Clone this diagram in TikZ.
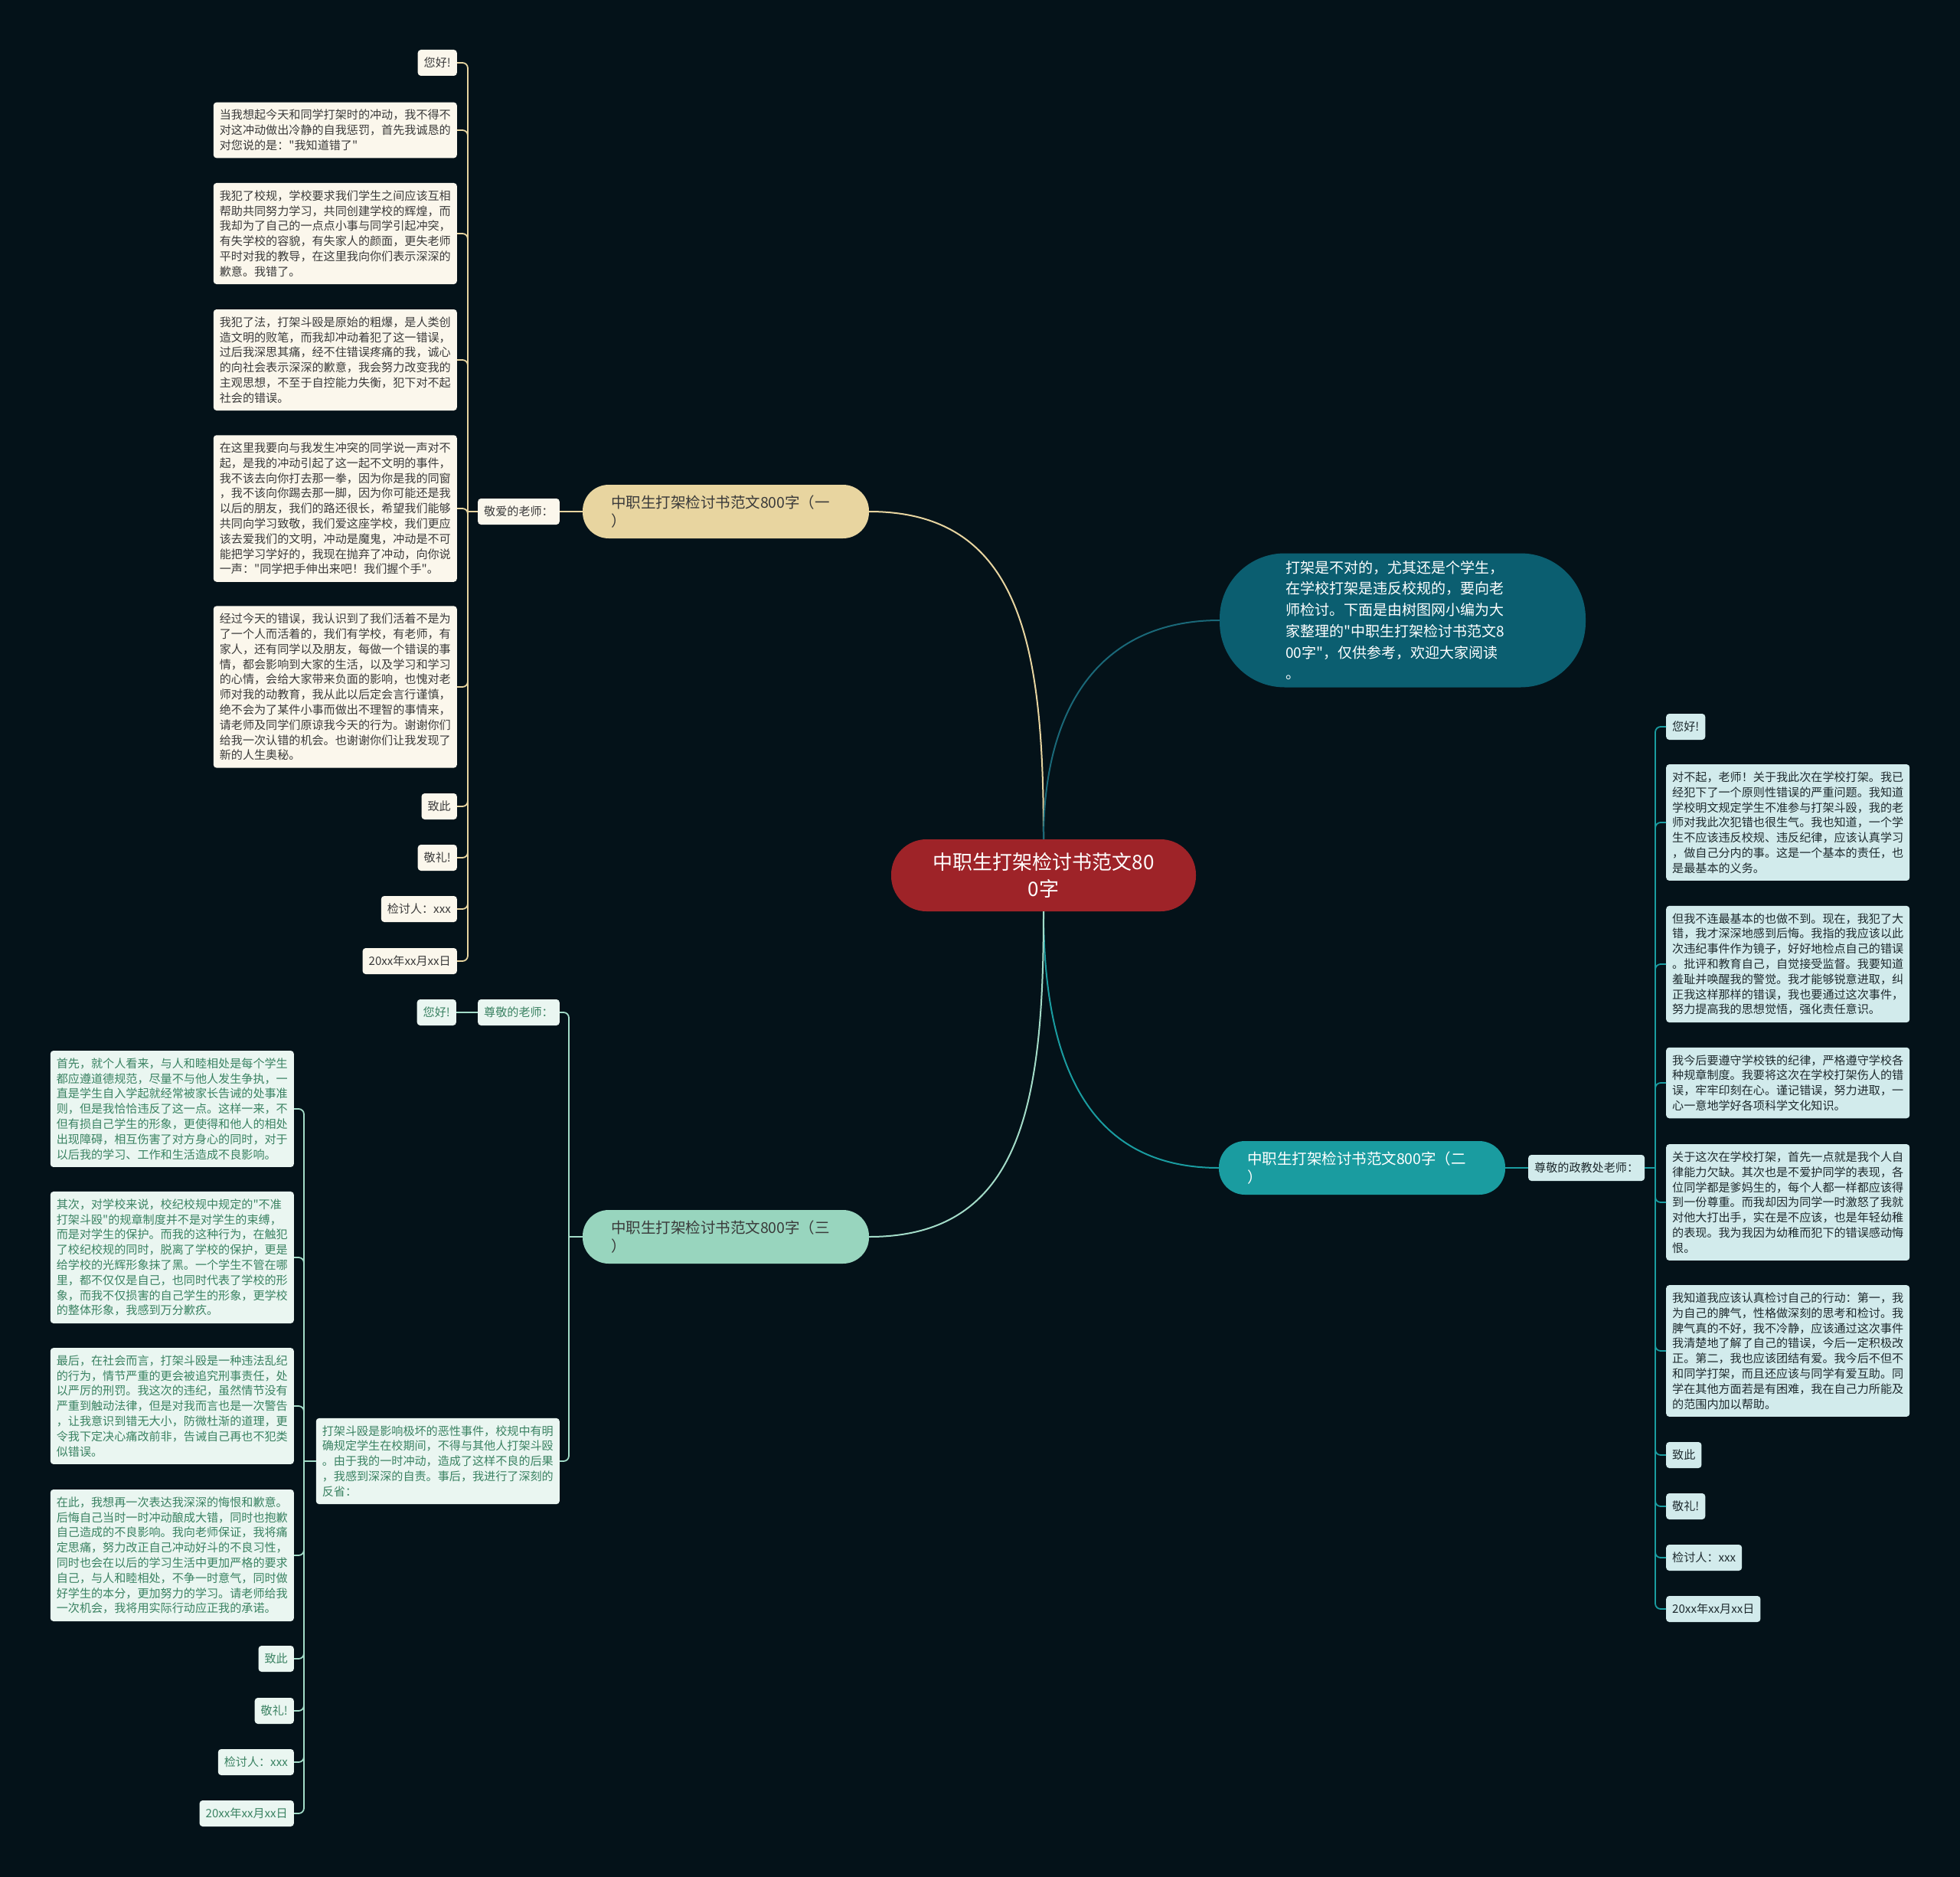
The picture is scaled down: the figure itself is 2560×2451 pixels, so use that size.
\documentclass[tikz,border=0pt]{standalone}
\usepackage{fontspec}
\setmainfont{Noto Sans CJK SC}[Ligatures=TeXOff]
\usetikzlibrary{calc}

\definecolor{bgcol}{HTML}{041219}
\definecolor{rootcol}{HTML}{9E2328}
\definecolor{introcol}{HTML}{0B5E70}
\definecolor{introedge}{HTML}{1A6878}
\definecolor{onecol}{HTML}{E8D5A0}
\definecolor{oneleaf}{HTML}{FBF7EC}
\definecolor{onetext}{HTML}{3A3A3A}
\definecolor{twocol}{HTML}{1A9CA0}
\definecolor{twoleaf}{HTML}{D2EBEC}
\definecolor{twotext}{HTML}{1E2A2E}
\definecolor{threecol}{HTML}{98D5BE}
\definecolor{threeleaf}{HTML}{EAF6F1}
\definecolor{threetext}{HTML}{3A8262}
\definecolor{threeedge}{HTML}{A3DCC8}

\newcommand{\leaffont}{\fontsize{15.1pt}{19.8pt}\selectfont}
\newcommand{\branchfont}{\fontsize{19.5pt}{24pt}\selectfont}
\newcommand{\rootfont}{\fontsize{26pt}{35pt}\selectfont}
\newcommand{\introfont}{\fontsize{19pt}{27.7pt}\selectfont}

\begin{document}
\begin{tikzpicture}[x=1pt,y=-1pt]
	\tikzset{leaf/.style={rounded corners=4pt, inner xsep=8pt, inner ysep=9.5pt, align=left, font=\leaffont}}
	\tikzset{tag/.style={leaf, minimum height=34pt}}
	\tikzset{topic/.style={rounded corners=34pt, minimum height=70pt, text width=300pt, inner xsep=37pt, align=left, font=\branchfont}}
	\tikzset{oneleafs/.style={leaf, fill=oneleaf, text=onetext}}
	\tikzset{twoleafs/.style={leaf, fill=twoleaf, text=twotext}}
	\tikzset{threeleafs/.style={leaf, fill=threeleaf, text=threetext}}
	\tikzset{oneline/.style={draw=onecol, line width=1.8pt}}
	\tikzset{twoline/.style={draw=twocol, line width=1.8pt}}
	\tikzset{threeline/.style={draw=threeedge, line width=1.8pt}}

	\useasboundingbox (0,0) rectangle (2560,2451);
	\fill[bgcol] (0,0) rectangle (2560,2451);

	% centre
	\node[fill=rootcol, text=white, rounded corners=46pt, minimum width=398pt, minimum height=94pt, align=center, font=\rootfont] (root) at (1363,1143) {中职生打架检讨书范文80\\0字};
	\node[fill=introcol, text=white, rounded corners=85pt, text width=306pt, inner xsep=86pt, minimum height=175pt, align=left, font=\introfont] (intro) at (1832,810) {打架是不对的，尤其还是个学生，\\在学校打架是违反校规的，要向老\\师检讨。下面是由树图网小编为大\\家整理的"中职生打架检讨书范文8\\00字"，仅供参考，欢迎大家阅读\\。};

	% branch one
	\node[topic, fill=onecol, text=onetext] (b1) at (948,668) {中职生打架检讨书范文800字（一\\）};
	\node[tag, fill=oneleaf, text=onetext, anchor=east] (lab1) at (731,668) {敬爱的老师：};
	\coordinate (s1) at (611,668);
	\node[tag, fill=oneleaf, text=onetext, anchor=east] (l1a) at (597,82) {您好!};
	\node[oneleafs, anchor=east] (l1b) at (597,170) {当我想起今天和同学打架时的冲动，我不得不\\对这冲动做出冷静的自我惩罚，首先我诚恳的\\对您说的是："我知道错了"};
	\node[oneleafs, anchor=east] (l1c) at (597,305) {我犯了校规，学校要求我们学生之间应该互相\\帮助共同努力学习，共同创建学校的辉煌，而\\我却为了自己的一点点小事与同学引起冲突，\\有失学校的容貌，有失家人的颜面，更失老师\\平时对我的教导，在这里我向你们表示深深的\\歉意。我错了。};
	\node[oneleafs, anchor=east] (l1d) at (597,470) {我犯了法，打架斗殴是原始的粗爆，是人类创\\造文明的败笔，而我却冲动着犯了这一错误，\\过后我深思其痛，经不住错误疼痛的我，诚心\\的向社会表示深深的歉意，我会努力改变我的\\主观思想，不至于自控能力失衡，犯下对不起\\社会的错误。};
	\node[oneleafs, anchor=east] (l1e) at (597,664) {在这里我要向与我发生冲突的同学说一声对不\\起，是我的冲动引起了这一起不文明的事件，\\我不该去向你打去那一拳，因为你是我的同窗\\，我不该向你踢去那一脚，因为你可能还是我\\以后的朋友，我们的路还很长，希望我们能够\\共同向学习致敬，我们爱这座学校，我们更应\\该去爱我们的文明，冲动是魔鬼，冲动是不可\\能把学习学好的，我现在抛弃了冲动，向你说\\一声："同学把手伸出来吧！我们握个手"。};
	\node[oneleafs, anchor=east] (l1f) at (597,897) {经过今天的错误，我认识到了我们活着不是为\\了一个人而活着的，我们有学校，有老师，有\\家人，还有同学以及朋友，每做一个错误的事\\情，都会影响到大家的生活，以及学习和学习\\的心情，会给大家带来负面的影响，也愧对老\\师对我的动教育，我从此以后定会言行谨慎，\\绝不会为了某件小事而做出不理智的事情来，\\请老师及同学们原谅我今天的行为。谢谢你们\\给我一次认错的机会。也谢谢你们让我发现了\\新的人生奥秘。};
	\node[tag, fill=oneleaf, text=onetext, anchor=east] (l1g) at (597,1053) {致此};
	\node[tag, fill=oneleaf, text=onetext, anchor=east] (l1h) at (597,1120) {敬礼!};
	\node[tag, fill=oneleaf, text=onetext, anchor=east] (l1i) at (597,1187) {检讨人：xxx};
	\node[tag, fill=oneleaf, text=onetext, anchor=east] (l1j) at (597,1255) {20xx年xx月xx日};

	% branch two
	\node[topic, fill=twocol, text=white] (b2) at (1779,1525) {中职生打架检讨书范文800字（二\\）};
	\node[tag, fill=twoleaf, text=twotext, anchor=west] (lab2) at (1996,1525) {尊敬的政教处老师：};
	\coordinate (s2) at (2162,1525);
	\node[tag, fill=twoleaf, text=twotext, anchor=west] (l2a) at (2176,949) {您好!};
	\node[twoleafs, anchor=west] (l2b) at (2176,1074) {对不起，老师！关于我此次在学校打架。我已\\经犯下了一个原则性错误的严重问题。我知道\\学校明文规定学生不准参与打架斗殴，我的老\\师对我此次犯错也很生气。我也知道，一个学\\生不应该违反校规、违反纪律，应该认真学习\\，做自己分内的事。这是一个基本的责任，也\\是最基本的义务。};
	\node[twoleafs, anchor=west] (l2c) at (2176,1259) {但我不连最基本的也做不到。现在，我犯了大\\错，我才深深地感到后悔。我指的我应该以此\\次违纪事件作为镜子，好好地检点自己的错误\\。批评和教育自己，自觉接受监督。我要知道\\羞耻并唤醒我的警觉。我才能够锐意进取，纠\\正我这样那样的错误，我也要通过这次事件，\\努力提高我的思想觉悟，强化责任意识。};
	\node[twoleafs, anchor=west] (l2d) at (2176,1414) {我今后要遵守学校铁的纪律，严格遵守学校各\\种规章制度。我要将这次在学校打架伤人的错\\误，牢牢印刻在心。谨记错误，努力进取，一\\心一意地学好各项科学文化知识。};
	\node[twoleafs, anchor=west] (l2e) at (2176,1570) {关于这次在学校打架，首先一点就是我个人自\\律能力欠缺。其次也是不爱护同学的表现，各\\位同学都是爹妈生的，每个人都一样都应该得\\到一份尊重。而我却因为同学一时激怒了我就\\对他大打出手，实在是不应该，也是年轻幼稚\\的表现。我为我因为幼稚而犯下的错误感动悔\\恨。};
	\node[twoleafs, anchor=west] (l2f) at (2176,1764) {我知道我应该认真检讨自己的行动：第一，我\\为自己的脾气，性格做深刻的思考和检讨。我\\脾气真的不好，我不冷静，应该通过这次事件\\我清楚地了解了自己的错误，今后一定积极改\\正。第二，我也应该团结有爱。我今后不但不\\和同学打架，而且还应该与同学有爱互助。同\\学在其他方面若是有困难，我在自己力所能及\\的范围内加以帮助。};
	\node[tag, fill=twoleaf, text=twotext, anchor=west] (l2g) at (2176,1900) {致此};
	\node[tag, fill=twoleaf, text=twotext, anchor=west] (l2h) at (2176,1967) {敬礼!};
	\node[tag, fill=twoleaf, text=twotext, anchor=west] (l2i) at (2176,2034) {检讨人：xxx};
	\node[tag, fill=twoleaf, text=twotext, anchor=west] (l2j) at (2176,2101) {20xx年xx月xx日};

	% branch three
	\node[topic, fill=threecol, text=onetext] (b3) at (948,1615) {中职生打架检讨书范文800字（三\\）};
	\coordinate (s3) at (743,1615);
	\node[tag, fill=threeleaf, text=threetext, anchor=east] (lab3) at (731,1322) {尊敬的老师：};
	\node[tag, fill=threeleaf, text=threetext, anchor=east] (hi3) at (596,1322) {您好!};
	\node[threeleafs, anchor=east] (blk3) at (731,1908) {打架斗殴是影响极坏的恶性事件，校规中有明\\确规定学生在校期间，不得与其他人打架斗殴\\。由于我的一时冲动，造成了这样不良的后果\\，我感到深深的自责。事后，我进行了深刻的\\反省：};
	\coordinate (s4) at (397,1908);
	\node[threeleafs, anchor=east] (l3a) at (384,1448) {首先，就个人看来，与人和睦相处是每个学生\\都应遵道德规范，尽量不与他人发生争执，一\\直是学生自入学起就经常被家长告诫的处事准\\则，但是我恰恰违反了这一点。这样一来，不\\但有损自己学生的形象，更使得和他人的相处\\出现障碍，相互伤害了对方身心的同时，对于\\以后我的学习、工作和生活造成不良影响。};
	\node[threeleafs, anchor=east] (l3b) at (384,1642) {其次，对学校来说，校纪校规中规定的"不准\\打架斗殴"的规章制度并不是对学生的束缚，\\而是对学生的保护。而我的这种行为，在触犯\\了校纪校规的同时，脱离了学校的保护，更是\\给学校的光辉形象抹了黑。一个学生不管在哪\\里，都不仅仅是自己，也同时代表了学校的形\\象，而我不仅损害的自己学生的形象，更学校\\的整体形象，我感到万分歉疚。};
	\node[threeleafs, anchor=east] (l3c) at (384,1836) {最后，在社会而言，打架斗殴是一种违法乱纪\\的行为，情节严重的更会被追究刑事责任，处\\以严厉的刑罚。我这次的违纪，虽然情节没有\\严重到触动法律，但是对我而言也是一次警告\\，让我意识到错无大小，防微杜渐的道理，更\\令我下定决心痛改前非，告诫自己再也不犯类\\似错误。};
	\node[threeleafs, anchor=east] (l3d) at (384,2031) {在此，我想再一次表达我深深的悔恨和歉意。\\后悔自己当时一时冲动酿成大错，同时也抱歉\\自己造成的不良影响。我向老师保证，我将痛\\定思痛，努力改正自己冲动好斗的不良习性，\\同时也会在以后的学习生活中更加严格的要求\\自己，与人和睦相处，不争一时意气，同时做\\好学生的本分，更加努力的学习。请老师给我\\一次机会，我将用实际行动应正我的承诺。};
	\node[tag, fill=threeleaf, text=threetext, anchor=east] (l3e) at (384,2166) {致此};
	\node[tag, fill=threeleaf, text=threetext, anchor=east] (l3f) at (384,2234) {敬礼!};
	\node[tag, fill=threeleaf, text=threetext, anchor=east] (l3g) at (384,2301) {检讨人：xxx};
	\node[tag, fill=threeleaf, text=threetext, anchor=east] (l3h) at (384,2368) {20xx年xx月xx日};

	% edges
	\draw[oneline, line width=2pt] (root.north) .. controls +(0,-250) and +(200,0) .. (b1.east);
	\draw[draw=introedge, line width=2pt] (root.north) .. controls +(0,-180) and +(-150,0) .. (intro.west);
	\draw[twoline, line width=2pt] (root.south) .. controls +(0,200) and +(-170,0) .. (b2.west);
	\draw[threeline, line width=2pt] (root.south) .. controls +(0,250) and +(200,0) .. (b3.east);

	\draw[oneline] (b1.west) -- (lab1.east);
	\draw[oneline] (lab1.west) -- (s1);
	\foreach \n in {l1a,l1b,l1c,l1d,l1e,l1f,l1g,l1h,l1i,l1j}
		\draw[oneline, rounded corners=7pt] (s1) |- (\n.east);

	\draw[twoline] (b2.east) -- (lab2.west);
	\draw[twoline] (lab2.east) -- (s2);
	\foreach \n in {l2a,l2b,l2c,l2d,l2e,l2f,l2g,l2h,l2i,l2j}
		\draw[twoline, rounded corners=7pt] (s2) |- (\n.west);

	\draw[threeline] (b3.west) -- (s3);
	\draw[threeline, rounded corners=7pt] (s3) |- (lab3.east);
	\draw[threeline, rounded corners=7pt] (s3) |- (blk3.east);
	\draw[threeline] (lab3.west) -- (hi3.east);
	\draw[threeline] (blk3.west) -- (s4);
	\foreach \n in {l3a,l3b,l3c,l3d,l3e,l3f,l3g,l3h}
		\draw[threeline, rounded corners=7pt] (s4) |- (\n.east);
\end{tikzpicture}
\end{document}
